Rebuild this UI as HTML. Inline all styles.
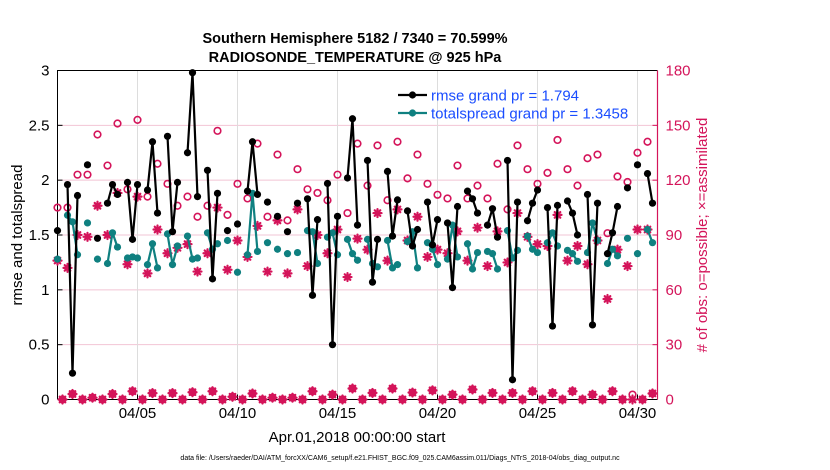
<!DOCTYPE html>
<html><head><meta charset="utf-8">
<style>
html,body{margin:0;padding:0;background:#fff;}
svg{display:block;font-family:"Liberation Sans",Arial,sans-serif;}
</style></head>
<body>
<svg id="chart" width="830" height="470" viewBox="0 0 830 470">
  <text x="355" y="43" font-size="14.5" font-weight="bold" text-anchor="middle">Southern Hemisphere 5182 / 7340 = 70.599%</text>
  <text x="355" y="62" font-size="14.5" font-weight="bold" text-anchor="middle">RADIOSONDE_TEMPERATURE @ 925 hPa</text>
  <text transform="translate(22,235) rotate(-90)" font-size="15" text-anchor="middle">rmse and totalspread</text>
  <text transform="translate(707,235) rotate(-90)" font-size="15" text-anchor="middle" fill="#d4145a"># of obs: o=possible; ×=assimilated</text>
  <text x="357" y="442" font-size="15" text-anchor="middle">Apr.01,2018 00:00:00 start</text>
  <text x="400" y="460" font-size="7" text-anchor="middle">data file: /Users/raeder/DAI/ATM_forcXX/CAM6_setup/f.e21.FHIST_BGC.f09_025.CAM6assim.011/Diags_NTrS_2018-04/obs_diag_output.nc</text>
  <g id="grid"></g>
  <g id="axes"></g>
  <g id="marks"></g>
  <g id="legend"></g>
</svg>
<script>
const N = null;
const rmse = [1.54,N,1.96,0.24,1.86,N,2.14,N,1.47,N,1.79,1.96,1.87,N,1.98,1.46,1.96,N,1.91,2.35,1.70,N,2.40,1.53,1.98,N,2.25,2.98,1.85,N,2.09,1.10,1.88,N,1.54,N,1.60,N,1.90,2.35,1.87,N,1.80,N,1.67,N,1.53,N,1.79,N,1.83,0.95,1.64,N,1.97,0.50,1.67,N,2.02,2.56,1.59,N,2.18,1.07,1.46,N,2.08,1.49,1.82,N,1.72,1.40,1.55,N,1.80,1.41,1.64,N,1.61,1.02,1.76,N,1.90,1.83,1.70,N,1.59,1.74,1.48,N,2.18,0.18,1.80,N,1.63,1.79,1.91,N,1.75,0.67,1.77,N,1.81,1.70,1.50,N,1.87,0.68,1.79,N,1.33,1.52,1.76,N,1.93,N,2.14,N,2.06,1.79];
const spread = [1.28,N,1.68,1.62,1.32,N,1.61,N,1.28,N,1.24,1.52,1.39,N,1.29,1.30,1.29,N,1.23,1.42,1.20,N,1.51,1.23,1.40,N,1.49,1.28,1.29,N,1.52,1.37,1.42,N,1.45,N,1.16,N,1.32,1.88,1.35,N,1.43,N,1.37,N,1.33,N,1.34,N,1.54,1.53,1.24,N,1.48,1.52,1.32,N,1.46,1.33,1.27,N,1.46,1.24,1.21,N,1.45,1.20,1.23,N,1.44,1.53,1.20,N,1.43,1.37,1.23,N,1.28,1.59,1.30,N,1.42,1.19,1.34,N,1.35,1.33,1.19,N,1.54,1.29,1.36,N,1.49,1.37,1.34,N,1.43,1.52,1.40,N,1.36,1.33,1.26,N,1.34,1.61,1.45,N,1.24,1.37,1.31,N,1.47,N,1.33,N,1.55,1.43];
const possible = [105,0,105,3,123,0,123,1,145,0,128,3,151,0,115,4.5,153,0,111,3.5,129,0,118,3.5,106,0,111,4,100,0,106,4.5,147,0,101,1.5,118,0,110,3.3,140,0,100,1,134,0,98,1,126,0,115,4.5,113,0,109,2.7,123,0,102,6,140,0,117,3.6,139,0,109,6,141,0,121,3.8,134,0,118,5,112,0,110,2.7,128,0,110,5.5,117,0,110,3.6,129,0,104,3.6,139,0,126,4.5,118,0,124,3.6,142,0,126,4.5,117,0,132,2.7,134,0,91,4.5,122,0,119,2.7,135,0,141,3.3];
const assim = [76,0,72,3,90,0,89,1,106,0,90,3,113,0,74,4.5,111,0,69,3.5,93,0,80,3.5,83,0,85,4,70,0,80,4.5,105,0,71,1.5,87,0,78,3.3,95,0,70,1,98,0,69,1,104,0,73,4.5,90,0,80,2.7,93,0,67,6,88,0,82,3.6,102,0,76,6,104,0,87,3.8,100,0,78,5,82,0,80,2.7,92,0,76,5.5,94,0,73,3.6,92,0,75,3.6,102,0,89,4.5,85,0,84,3.6,101,0,76,4.5,84,0,74,2.7,87,0,55,4.5,82,0,73,0,93,0,93,3.3];
const leftTicks = [0,0.5,1,1.5,2,2.5,3];
const rightTicks = [0,30,60,90,120,150,180];
const dateTicks = [4,9,14,19,24,29];
const dateLabels = ["04/05","04/10","04/15","04/20","04/25","04/30"];
const legendLabels = ["rmse grand pr = 1.794","totalspread grand pr = 1.3458"];

const L=57.5,R=657.5,T=70.5,B=399.5;
const xs = d => L + (d/30)*(R-L);
const xi = i => xs(i*0.25);
const yl = v => B - (v/3)*(B-T);
const yr = v => B - (v/180)*(B-T);
const NS="http://www.w3.org/2000/svg";
function mk(tag, attrs, parent){const e=document.createElementNS(NS,tag);for(const k in attrs)e.setAttribute(k,attrs[k]);parent.appendChild(e);return e;}
const grid=document.getElementById('grid'),axes=document.getElementById('axes'),marks=document.getElementById('marks'),leg=document.getElementById('legend');
const MAG="#d4145a", TEAL="#0f8080";

leftTicks.forEach((t,k)=>{
  const y=yl(t);
  if(k>0&&k<leftTicks.length-1){const g=mk('line',{x1:L,x2:R,y1:y,y2:y,stroke:'#f2c4d4','stroke-width':1},grid);
  
  }
  const tk=mk('line',{x1:L,x2:L+5,y1:y,y2:y,stroke:'#000'},axes);
  
  
  const tx=mk('text',{x:L-8,y:y+5,'font-size':15,'text-anchor':'end'},axes);tx.textContent=t;
  
  
});
rightTicks.forEach(t=>{
  const y=yr(t);
  const tk=mk('line',{x1:R-5,x2:R,y1:y,y2:y,stroke:MAG},axes);
  
  
  const tx=mk('text',{x:R+8,y:y+5,'font-size':15,fill:MAG},axes);tx.textContent=t;
  
  
});
dateTicks.forEach((d,k)=>{
  const x=xs(d);
  const g=mk('line',{x1:x,x2:x,y1:T,y2:B,stroke:'#ddd','stroke-width':1},grid);
  
  
  const tk=mk('line',{x1:x,x2:x,y1:B,y2:B-5,stroke:'#000'},axes);
  
  
  const tx=mk('text',{x:x,y:418,'font-size':15,'text-anchor':'middle'},axes);tx.textContent=dateLabels[k];
  
  
});
const fr=mk('path',{d:`M${L},${B}V${T}H${R}M${L},${B}H${R}`,stroke:'#000',fill:'none','stroke-width':1},axes);


const ra=mk('line',{x1:R,x2:R,y1:T,y2:B,stroke:MAG,'stroke-width':1.2},axes);



function star(x,y,parent,name){
  const g=mk('g',{stroke:MAG,'stroke-width':2.2,'stroke-linecap':'round'},parent);
  
  
  const r=4;
  mk('line',{x1:x-r,x2:x+r,y1:y,y2:y},g);mk('line',{x1:x,x2:x,y1:y-r,y2:y+r},g);
  mk('line',{x1:x-r*0.7,x2:x+r*0.7,y1:y-r*0.7,y2:y+r*0.7},g);mk('line',{x1:x-r*0.7,x2:x+r*0.7,y1:y+r*0.7,y2:y-r*0.7},g);
}
possible.forEach((v,i)=>{
  const c=mk('circle',{cx:xi(i),cy:yr(v),r:3.3,fill:'none',stroke:MAG,'stroke-width':1.6},marks);
  
  
});
assim.forEach((v,i)=>star(xi(i),yr(v),marks,'assimilated-obs-marker'));

function series(arr,color,name){
  let d='',pen=false;
  arr.forEach((v,i)=>{ if(v===null){pen=false;return;} d+=(pen?'L':'M')+xi(i).toFixed(1)+','+yl(v).toFixed(1); pen=true; });
  const p=mk('path',{d:d,fill:'none',stroke:color,'stroke-width':2.2,'stroke-linejoin':'round'},marks);
  
  
  arr.forEach((v,i)=>{ if(v===null)return;
    const c=mk('circle',{cx:xi(i),cy:yl(v),r:3.6,fill:color},marks);
    
    
  });
}
series(spread,TEAL,'totalspread');
series(rmse,'#000','rmse');

[['#000',95],[TEAL,113]].forEach((s,k)=>{
  const g=mk('g',{},leg);
  
  
  mk('line',{x1:398,x2:427,y1:s[1],y2:s[1],stroke:s[0],'stroke-width':2.2},g);
  mk('circle',{cx:412.5,cy:s[1],r:3.6,fill:s[0]},g);
  const t=mk('text',{x:431,y:s[1]+5.5,'font-size':15,fill:'#1a4dff'},g);t.textContent=legendLabels[k];
});
</script>
</body></html>
